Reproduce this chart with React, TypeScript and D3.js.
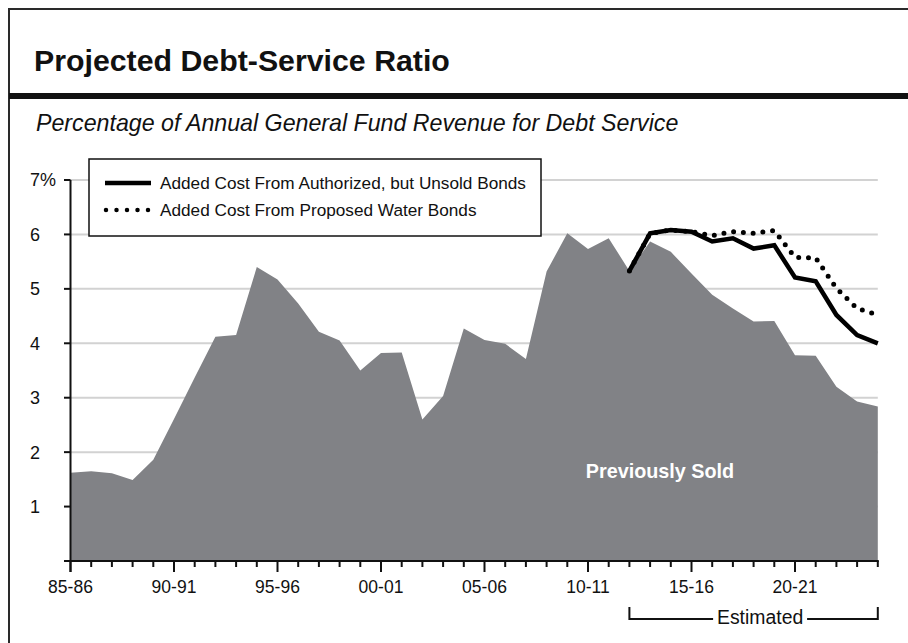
import React from "react";
import * as d3 from "d3";

const years = [
  "85-86","86-87","87-88","88-89","89-90","90-91","91-92","92-93","93-94","94-95",
  "95-96","96-97","97-98","98-99","99-00","00-01","01-02","02-03","03-04","04-05",
  "05-06","06-07","07-08","08-09","09-10","10-11","11-12","12-13","13-14","14-15",
  "15-16","16-17","17-18","18-19","19-20","20-21","21-22","22-23","23-24","24-25",
];
const tickLabels = ["85-86","90-91","95-96","00-01","05-06","10-11","15-16","20-21"];
const previouslySold = [
  1.62,1.65,1.61,1.49,1.86,2.61,3.37,4.12,4.15,5.40,
  5.17,4.73,4.21,4.05,3.50,3.82,3.83,2.60,3.03,4.27,
  4.06,3.99,3.71,5.32,6.02,5.73,5.93,5.33,5.87,5.68,
  5.28,4.89,4.64,4.40,4.41,3.78,3.77,3.20,2.93,2.84,
];
const estimatedStart = "12-13";
const unsoldBonds = [5.33,6.02,6.08,6.05,5.87,5.93,5.74,5.80,5.21,5.14,4.52,4.15,4.00];
const waterBonds = [5.33,6.02,6.08,6.05,5.98,6.05,6.02,6.07,5.58,5.57,5.01,4.64,4.52];
const yTicks = [0,1,2,3,4,5,6,7];

const FONT = "'Liberation Sans', Arial, Helvetica, sans-serif";

export default function App() {
  const x = d3.scaleLinear().domain([0, years.length - 1]).range([70.5, 877.8]);
  const y = d3.scaleLinear().domain([0, 7]).range([561, 180]);
  const start = years.indexOf(estimatedStart);

  const area = d3.area<number>()
    .x((_, i) => x(i))
    .y0(y(0))
    .y1((d) => y(d));
  const line = d3.line<number>()
    .x((_, i) => x(start + i))
    .y((d) => y(d));

  const x0 = x(0);
  const xEnd = x(years.length - 1);
  const estX0 = x(start);
  const estMid = (estX0 + xEnd) / 2 + 6.5;

  return (
    <svg width={908} height={643} style={{ position: "absolute", left: 0, top: 0, background: "#fff" }} fontFamily={FONT}>
      {/* frame */}
      <line x1={9} y1={9} x2={908} y2={9} stroke="#2a2a2a" strokeWidth={2} />
      <line x1={9} y1={8} x2={9} y2={643} stroke="#2a2a2a" strokeWidth={2} />
      <rect x={9} y={93} width={899} height={6} fill="#111" />
      <text x={34} y={71} fontSize={30.3} fontWeight="bold" fill="#111">Projected Debt-Service Ratio</text>
      <text x={36} y={131} fontSize={23.2} fontStyle="italic" fill="#111">Percentage of Annual General Fund Revenue for Debt Service</text>

      {/* gridlines */}
      {yTicks.filter((t) => t > 0).map((t) => (
        <line key={t} x1={x0} x2={xEnd} y1={y(t)} y2={y(t)} stroke="#d2d2d2" strokeWidth={2} />
      ))}

      {/* area */}
      <path d={area(previouslySold) || ""} fill="#818286" />

      {/* lines */}
      <path d={line(waterBonds) || ""} fill="none" stroke="#000" strokeWidth={5} strokeDasharray="0 9.8" strokeLinecap="round" />
      <path d={line(unsoldBonds) || ""} fill="none" stroke="#000" strokeWidth={4.5} strokeLinejoin="miter" />

      <text x={660} y={478} fontSize={19.8} fontWeight="bold" fill="#fff" textAnchor="middle">Previously Sold</text>

      {/* y axis */}
      <line x1={x0} x2={x0} y1={y(7)} y2={572} stroke="#111" strokeWidth={2} />
      {yTicks.map((t) => (
        <g key={t}>
          <line x1={64} x2={x0} y1={y(t)} y2={y(t)} stroke="#111" strokeWidth={2} />
          {t > 0 && (
            <text x={30} y={y(t)} dy="0.36em" fontSize={18} fill="#111">{t === 7 ? "7%" : String(t)}</text>
          )}
        </g>
      ))}

      {/* x axis */}
      <line x1={x0 - 1} x2={xEnd + 1} y1={561} y2={561} stroke="#111" strokeWidth={2} />
      {years.map((yr, i) => {
        const major = tickLabels.includes(yr);
        return (
          <line key={yr} x1={x(i)} x2={x(i)} y1={561} y2={major ? 572 : 567} stroke="#111" strokeWidth={2} />
        );
      })}
      {tickLabels.map((lab) => (
        <text key={lab} x={x(years.indexOf(lab))} y={593} fontSize={17.5} textAnchor="middle" fill="#111">{lab}</text>
      ))}

      {/* estimated bracket */}
      <path d={`M${estX0},607 V619 H${estMid - 47} M${estMid + 47},619 H${xEnd} V607`} fill="none" stroke="#111" strokeWidth={2} />
      <text x={estMid} y={623.5} fontSize={19.4} textAnchor="middle" fill="#111">Estimated</text>

      {/* legend */}
      <rect x={89} y={159} width={452} height={77} fill="#fff" stroke="#111" strokeWidth={1.5} />
      <line x1={105} x2={151} y1={183} y2={183} stroke="#000" strokeWidth={4.5} />
      <text x={160} y={183} dy="0.36em" fontSize={17.2} fill="#111">Added Cost From Authorized, but Unsold Bonds</text>
      <line x1={106} x2={151} y1={210} y2={210} stroke="#000" strokeWidth={4.5} strokeDasharray="0 10.5" strokeLinecap="round" />
      <text x={160} y={210} dy="0.36em" fontSize={17.2} fill="#111">Added Cost From Proposed Water Bonds</text>
    </svg>
  );
}
